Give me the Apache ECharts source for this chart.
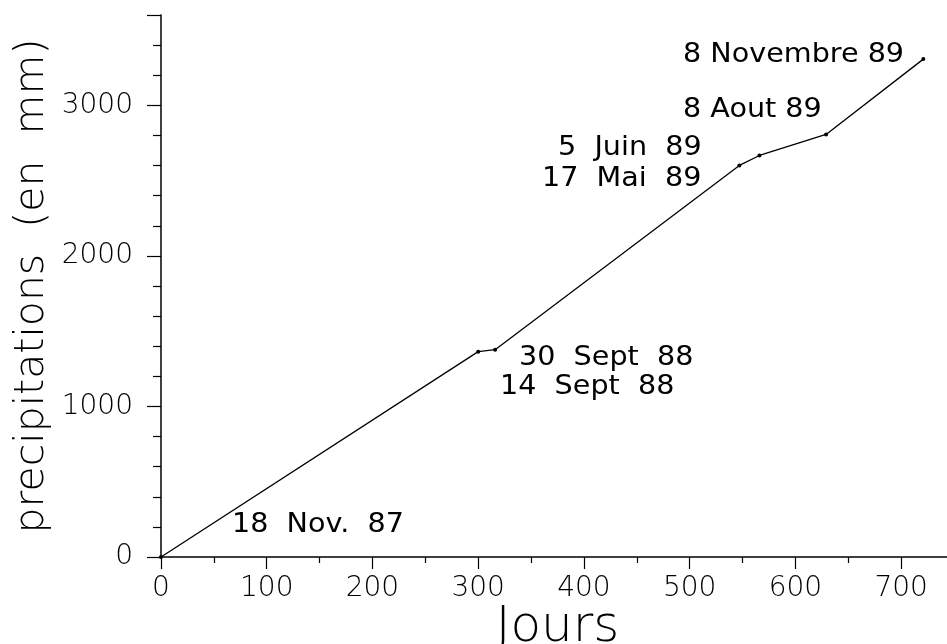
<!DOCTYPE html>
<html>
<head>
<meta charset="utf-8">
<script src="https://cdn.jsdelivr.net/npm/echarts@6/dist/echarts.min.js"></script>
<style>
  html, body { margin: 0; padding: 0; background: #fff; }
  #chart { width: 947px; height: 644px; }
</style>
</head>
<body>
<div id="chart"></div>
<script>
// jours depuis le 18 nov. 87
const jours = [0, 300, 316, 547, 566, 629, 721];
// precipitations cumulees (mm)
const precip = [0, 1364, 1377, 2601, 2667, 2807, 3307];
const dates = ['18  Nov.  87', '14  Sept  88', '30  Sept  88', '17  Mai  89', '5  Juin  89', '8 Aout 89', '8 Novembre 89'];

const FONT = '"DejaVu Sans", sans-serif';

// position des annotations (pixels, bord gauche / centre vertical)
const labelPos = [
  [232, 525], [500, 387], [519, 358], [542, 179], [558, 148], [683, 110], [683, 55]
];

const chart = echarts.init(document.getElementById('chart'));

chart.setOption({
  animation: false,
  backgroundColor: '#fff',
  grid: { left: 161, top: 15, bottom: 87, right: -7, outerBoundsMode: 'none', containLabel: false },
  xAxis: {
    type: 'value',
    min: 0,
    max: 750,
    interval: 100,
    name: 'Jours',
    nameLocation: 'middle',
    nameGap: 46,
    nameMoveOverlap: false,
    nameTextStyle: { fontFamily: FONT, fontSize: 50, fontWeight: 200, color: '#000' },
    axisLine: { show: true, lineStyle: { color: '#000', width: 1.5 } },
    axisTick: { show: true, inside: false, length: 12, lineStyle: { color: '#000', width: 1.2 } },
    minorTick: { show: true, splitNumber: 2, length: 6, lineStyle: { color: '#000', width: 1.2 } },
    axisLabel: {
      margin: 18, fontFamily: FONT, fontSize: 28, fontWeight: 200, color: '#000',
      formatter: v => (v <= 700 ? String(v) : '')
    },
    splitLine: { show: false }
  },
  yAxis: {
    type: 'value',
    min: 0,
    max: 3600,
    interval: 1000,
    name: 'precipitations  (en  mm)',
    nameLocation: 'middle',
    nameGap: 108,
    nameMoveOverlap: false,
    nameRotate: 90,
    nameTextStyle: { fontFamily: FONT, fontSize: 41, fontWeight: 200, color: '#000' },
    axisLine: { show: true, lineStyle: { color: '#000', width: 1.5 } },
    axisTick: { show: true, inside: false, length: 14, lineStyle: { color: '#000', width: 1.2 } },
    minorTick: { show: true, splitNumber: 5, length: 8, lineStyle: { color: '#000', width: 1.2 } },
    axisLabel: {
      margin: 28, fontFamily: FONT, fontSize: 28, fontWeight: 200, color: '#000',
      formatter: v => (v <= 3000 ? String(v) : '')
    },
    splitLine: { show: false }
  },
  series: [{
    type: 'line',
    data: jours.map((j, i) => [j, precip[i]]),
    symbol: 'circle',
    symbolSize: 4,
    showSymbol: true,
    itemStyle: { color: '#000' },
    lineStyle: { color: '#000', width: 1.3 }
  }],
  graphic: dates.map((d, i) => ({
    type: 'text',
    left: labelPos[i][0],
    top: labelPos[i][1] - 14,
    scaleX: 1.06,
    style: { text: d, fontFamily: FONT, fontSize: 27, fill: '#000' }
  }))
});
</script>
</body>
</html>
